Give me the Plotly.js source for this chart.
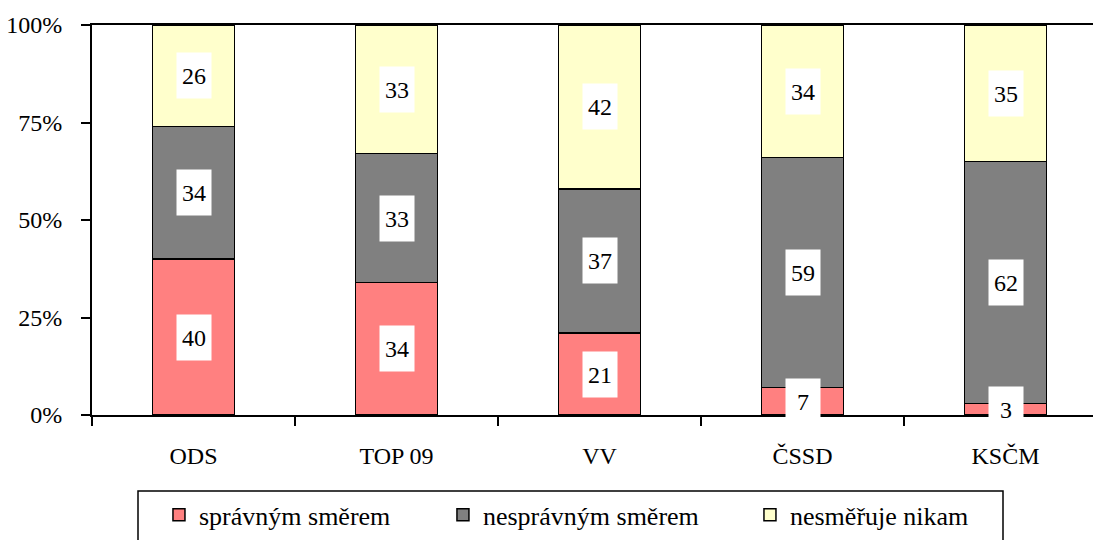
<!DOCTYPE html>
<html>
<head>
<meta charset="utf-8">
<script src="https://cdn.plot.ly/plotly-3.0.1.min.js"></script>
<style>html,body{margin:0;padding:0;background:#fff}#chart{width:1093px;height:540px}</style>
</head>
<body>
<div id="chart"></div>
<script>
const categories = ["ODS", "TOP 09", "VV", "ČSSD", "KSČM"];
const spravnym = [40, 34, 21, 7, 3];
const nespravnym = [34, 33, 37, 59, 62];
const nikam = [26, 33, 42, 34, 35];
const seriesNames = ["správným směrem", "nesprávným směrem", "nesměřuje nikam"];
const seriesColors = ["#FF8080", "#808080", "#FFFFCC"];
const yTicks = [0, 25, 50, 75, 100];

const FONT = "Liberation Serif";
const series = [spravnym, nespravnym, nikam];
const legendIds = ["legend", "legend2", "legend3"];

const traces = series.map((vals, i) => ({
  type: "bar",
  x: categories,
  y: vals,
  name: seriesNames[i],
  legend: legendIds[i],
  marker: {color: seriesColors[i], line: {color: "#000", width: 1.5}},
  width: 0.404,
  hoverinfo: "skip"
}));

const annotations = [];
categories.forEach((c, ci) => {
  let base = 0;
  series.forEach((vals) => {
    const v = vals[ci];
    annotations.push({
      x: c, y: base + v / 2, xref: "x", yref: "y",
      text: String(v), showarrow: false,
      bgcolor: "#fff", width: 32, height: 43,
      font: {family: FONT, size: 24, color: "#000"}
    });
    base += v;
  });
});

const legendBase = {
  orientation: "h", yanchor: "middle", xanchor: "left",
  y: -0.256, bgcolor: "rgba(0,0,0,0)", borderwidth: 0,
  font: {family: FONT, size: 26, color: "#000"}
};

const layout = {
  width: 1093, height: 540,
  margin: {l: 92, r: 0, t: 25, b: 125, autoexpand: false},
  paper_bgcolor: "#fff", plot_bgcolor: "#fff",
  barmode: "stack",
  showlegend: true,
  font: {family: FONT, size: 24, color: "#000"},
  xaxis: {
    type: "category", range: [-0.5, 4.431],
    showline: true, linecolor: "#000", linewidth: 2, mirror: true,
    ticks: "outside", tickson: "boundaries", ticklen: 9, tickwidth: 2, tickcolor: "#000",
    showgrid: false, zeroline: false, ticklabelstandoff: 18,
    tickfont: {family: FONT, size: 24, color: "#000"}
  },
  yaxis: {
    range: [0, 100], tickvals: yTicks, ticktext: yTicks.map(t => t + "%"),
    showline: true, linecolor: "#000", linewidth: 2,
    ticks: "outside", ticklen: 9, tickwidth: 2, tickcolor: "#000",
    showgrid: false, zeroline: false, ticklabelstandoff: 14,
    tickfont: {family: FONT, size: 24, color: "#000"}
  },
  legend: Object.assign({}, legendBase, {x: 0.0669}),
  legend2: Object.assign({}, legendBase, {x: 0.3506}),
  legend3: Object.assign({}, legendBase, {x: 0.6573}),
  shapes: [{
    type: "rect", xref: "paper", yref: "paper",
    x0: (138 - 92) / 1001, x1: (1003 - 92) / 1001,
    y0: -0.195, y1: -0.36,
    line: {color: "#000", width: 1.5}, fillcolor: "rgba(0,0,0,0)", layer: "below"
  }],
  annotations: annotations
};

Plotly.newPlot("chart", traces, layout, {staticPlot: true, displayModeBar: false});
</script>
</body>
</html>
